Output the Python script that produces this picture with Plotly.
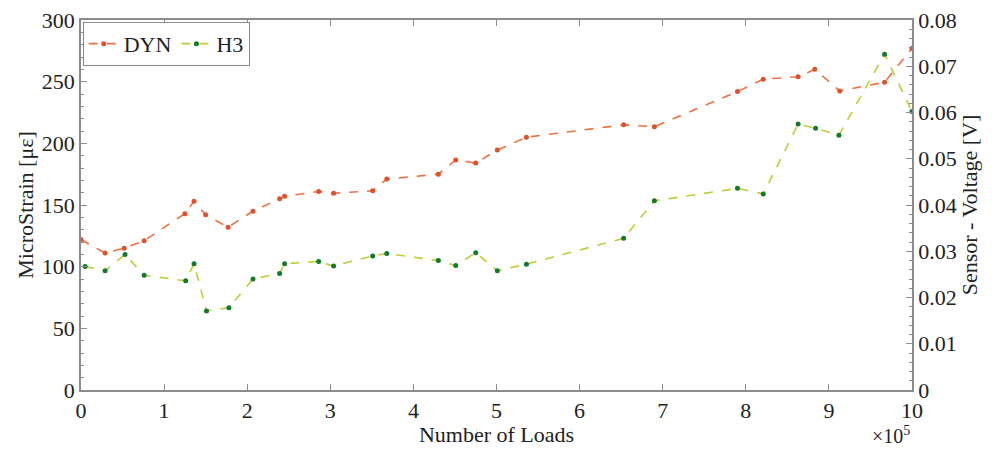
import plotly.graph_objects as go

# number of loads, in units of 1e5
loads_dyn = [0.0, 0.29, 0.52, 0.76, 1.25, 1.36, 1.50, 1.77, 2.07, 2.39, 2.45, 2.86, 3.04,
             3.51, 3.68, 4.30, 4.51, 4.75, 5.01, 5.36, 6.53, 6.90, 7.90, 8.21, 8.63, 8.83,
             9.13, 9.67, 10.0]
dyn_strain = [122, 111, 115, 121, 143, 153, 142, 132, 145, 155, 157, 161, 159.5,
              161.5, 171, 175, 186.5, 184, 194.5, 205, 215, 213.5, 242, 252, 254, 260,
              242.5, 249.5, 277]

loads_h3 = [0.05, 0.29, 0.53, 0.76, 1.26, 1.36, 1.51, 1.78, 2.07, 2.39, 2.45, 2.86, 3.04,
            3.51, 3.68, 4.30, 4.51, 4.75, 5.01, 5.36, 6.53, 6.90, 7.90, 8.21, 8.63, 8.84,
            9.12, 9.67, 10.0]
h3_voltage = [0.0267, 0.0258, 0.0293, 0.0248, 0.0236, 0.0273, 0.0171, 0.0178, 0.0240,
              0.0252, 0.0273, 0.0278, 0.0268, 0.0290, 0.0295, 0.0280, 0.0269, 0.0297,
              0.0258, 0.0272, 0.0328, 0.0409, 0.0436, 0.0424, 0.0575, 0.0566, 0.0551,
              0.0726, 0.0602]

x_ticks = list(range(0, 11))

FONT = "Liberation Serif"
AX = "#8c8c8c"
TXT = "#222"

fig = go.Figure()
fig.add_trace(go.Scatter(
    x=loads_dyn, y=dyn_strain, name="DYN", mode="lines+markers",
    line=dict(color="#f07040", width=1.6, dash="dash"),
    marker=dict(color="#e0502a", size=5),
))
fig.add_trace(go.Scatter(
    x=loads_h3, y=h3_voltage, name="H3", mode="lines+markers", yaxis="y2",
    line=dict(color="#c0cc38", width=1.6, dash="dash"),
    marker=dict(color="#127a2a", size=5),
))

axis_common = dict(
    showline=True, linecolor=AX, linewidth=1.5, ticks="inside", tickcolor=AX,
    ticklen=6, showgrid=False, zeroline=False, automargin=False,
    ticklabeloverflow="allow",
    tickfont=dict(family=FONT, size=22, color=TXT),
)
title_font = dict(family=FONT, size=22, color=TXT)

# page body has an 8px margin, so the figure is 16px smaller than the window
fig.update_layout(
    width=979, height=439,
    margin=dict(l=73, r=75, t=12, b=57),
    paper_bgcolor="white", plot_bgcolor="white",
    font=dict(family=FONT, size=22, color=TXT),
    showlegend=True,
    legend=dict(x=0.002, y=0.995, xanchor="left", yanchor="top", orientation="h",
                bordercolor=AX, borderwidth=1, bgcolor="white",
                font=dict(family=FONT, size=22, color=TXT),
                itemwidth=30, tracegroupgap=0),
    xaxis=dict(range=[0, 10], tickvals=x_ticks, ticktext=[str(t) for t in x_ticks],
               mirror="ticks",
               title=dict(text="Number of Loads", font=title_font, standoff=10),
               **axis_common),
    yaxis=dict(range=[0, 300], dtick=50, mirror=False,
               title=dict(text="MicroStrain [με]", font=title_font, standoff=2),
               minor=dict(ticks="inside", ticklen=3, tickcolor=AX, dtick=10),
               **axis_common),
    yaxis2=dict(range=[0, 0.08], dtick=0.01, overlaying="y", side="right",
                title=dict(text="Sensor - Voltage [V]", font=title_font, standoff=4),
                minor=dict(ticks="inside", ticklen=3, tickcolor=AX, dtick=0.002),
                **axis_common),
)

fig.add_annotation(x=1.0, y=0, xref="paper", yref="paper", xanchor="right", yanchor="top",
                   yshift=-31, showarrow=False, text="×10<sup>5</sup>",
                   font=dict(family=FONT, size=20, color=TXT))

fig.write_html("out.html")
